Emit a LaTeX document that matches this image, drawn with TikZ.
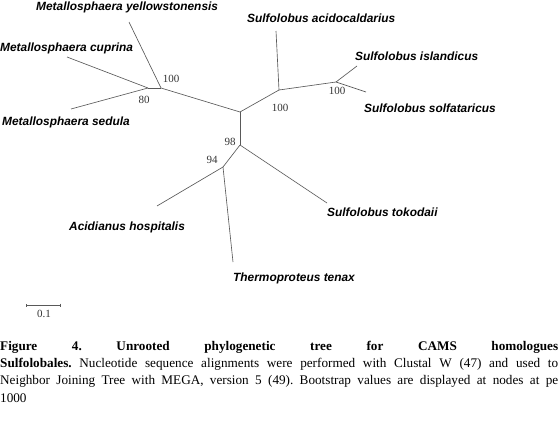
\documentclass[tikz,border=0pt]{standalone}
\usepackage{fontspec}
\setmainfont{Liberation Serif}
\setsansfont{Liberation Sans}
\usetikzlibrary{arrows.meta, positioning}
\frenchspacing

\begin{document}
\begin{tikzpicture}[x=1pt, y=-1pt,
  branch/.style={draw=black!65, line width=0.65pt},
  taxon/.style={anchor=west, inner sep=0pt, font=\fontsize{11.9}{13}\sffamily\bfseries\itshape},
  boot/.style={inner sep=0pt, font=\fontsize{11}{12}\selectfont, text=black!80},
  capline/.style={anchor=west, inner sep=0pt, font=\fontsize{13.2}{15}\selectfont}]
  \useasboundingbox (0,0) rectangle (558,423);

  % inner nodes of the tree
  \coordinate (centre) at (240,112);
  \coordinate (metA) at (148,88);
  \coordinate (metB) at (161,88);
  \coordinate (sulA) at (279,90);
  \coordinate (sulB) at (336,82);
  \coordinate (lowA) at (240,145);
  \coordinate (lowB) at (223,167);

  % branch tips
  \coordinate (tipYel) at (129,22);
  \coordinate (tipCup) at (67,57);
  \coordinate (tipSed) at (71,109);
  \coordinate (tipAci) at (276,31);
  \coordinate (tipIsl) at (357,66);
  \coordinate (tipSol) at (366,92);
  \coordinate (tipTok) at (327,203);
  \coordinate (tipHos) at (157,206);
  \coordinate (tipTen) at (233,262);

  % taxa
  \node[taxon] (yel) at (36,7) {Metallosphaera yellowstonensis};
  \node[taxon] (cup) at (0,48) {Metallosphaera cuprina};
  \node[taxon] (sed) at (2,122) {Metallosphaera sedula};
  \node[taxon] (aci) at (247,18) {Sulfolobus acidocaldarius};
  \node[taxon] (isl) at (355,56) {Sulfolobus islandicus};
  \node[taxon] (sol) at (364,108) {Sulfolobus solfataricus};
  \node[taxon] (tok) at (327,212) {Sulfolobus tokodaii};
  \node[taxon] (hos) at (69,227) {Acidianus hospitalis};
  \node[taxon] (ten) at (233,278) {Thermoproteus tenax};

  % branches
  \draw[branch] (tipCup) -- (metA);
  \draw[branch] (tipSed) -- (metA);
  \draw[branch] (metA) -- (metB);
  \draw[branch] (tipYel) -- (metB);
  \draw[branch] (metB) -- (centre);
  \draw[branch] (centre) -- (sulA);
  \draw[branch] (sulA) -- (tipAci);
  \draw[branch] (sulA) -- (sulB);
  \draw[branch] (sulB) -- (tipIsl);
  \draw[branch] (sulB) -- (tipSol);
  \draw[branch] (centre) -- (lowA);
  \draw[branch] (lowA) -- (tipTok);
  \draw[branch] (lowA) -- (lowB);
  \draw[branch] (lowB) -- (tipHos);
  \draw[branch] (lowB) -- (tipTen);

  % bootstrap values
  \node[boot] (b1) at (171,79) {100};
  \node[boot] (b2) at (144,100) {80};
  \node[boot] (b3) at (280,108) {100};
  \node[boot] (b4) at (337,91) {100};
  \node[boot] (b5) at (230,142) {98};
  \node[boot] (b6) at (212,160) {94};

  % scale bar
  \coordinate (sbL) at (26,305);
  \coordinate (sbR) at (61,305);
  \draw[branch, {Bar[width=3pt]}-{Bar[width=3pt]}] (sbL) -- (sbR);
  \node[boot] (sbtext) at (44,314) {0.1};

  % caption
  \node[capline] (cap1) at (0,347) {\makebox[558pt][s]{\bfseries Figure 4. Unrooted phylogenetic tree for CAMS homologues}};
  \node[capline] (cap2) at (0,364) {\makebox[558pt][s]{\textbf{Sulfolobales.} Nucleotide sequence alignments were performed with Clustal W (47) and used to}};
  \node[capline] (cap3) at (0,381) {\makebox[558pt][s]{Neighbor Joining Tree with MEGA, version 5 (49). Bootstrap values are displayed at nodes at pe}};
  \node[capline] (cap4) at (0,398) {1000};
\end{tikzpicture}
\end{document}
